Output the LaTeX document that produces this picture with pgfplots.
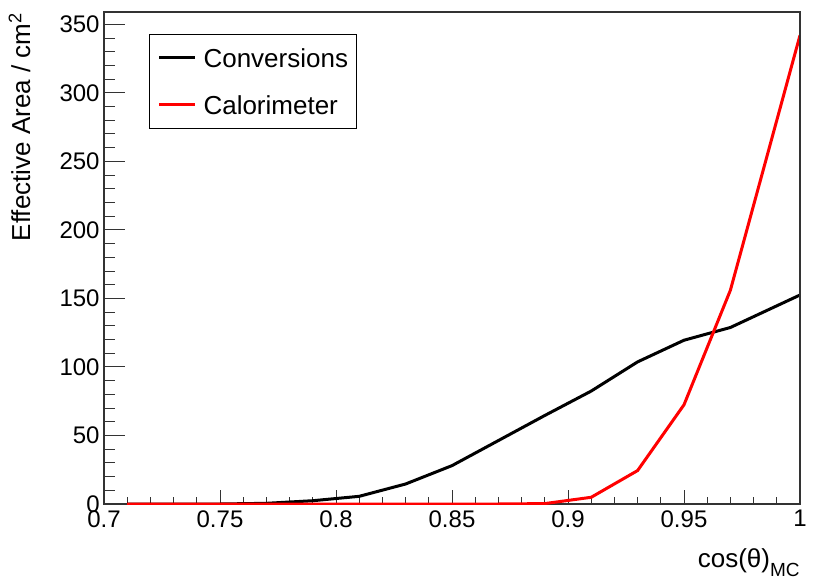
\documentclass[border=0pt]{standalone}
\usepackage{fontspec}
\setmainfont{Liberation Sans}
\usepackage{pgfplots}
\pgfplotsset{compat=1.18}
\pgfplotsset{rootframe/.style={
  at={(52pt,37.5pt)}, anchor=south west,
  scale only axis, width=348pt, height=246pt,
  xmin=0.7, xmax=1, ymin=0, ymax=359,
  tick align=inside,
  tick style={black!80, line width=0.5pt},
  axis line style={black!80, line width=0.6pt},
  /pgf/number format/assume math mode=true,
  ticklabel style={font=\fontsize{12}{14}\selectfont},
}}
\begin{document}
\begin{tikzpicture}
\useasboundingbox (0,0) rectangle (415pt,289.5pt);
\begin{axis}[
  rootframe,
  xtick={0.7,0.75,0.8,0.85,0.9,0.95,1},
  xticklabels={0.7,0.75,0.8,0.85,0.9,0.95,1},
  ytick=\empty,
  minor x tick num=4,
  xtick pos=bottom,
  major tick length=7pt, minor tick length=3.5pt,
  xticklabel style={inner ysep=3pt},
  xlabel={cos(θ)\raisebox{-4.5pt}{\fontsize{9.5}{10}\selectfont MC}},
  ylabel={Effective Area / cm\textsuperscript{2}},
  label style={font=\fontsize{13}{15}\selectfont},
  xlabel style={at={(axis description cs:1,-0.130)}, anchor=base east, inner sep=0pt},
  ylabel style={at={(axis description cs:-0.1063,1)}, anchor=base east, inner sep=0pt},
  legend style={at={(0.0647,0.9553)}, anchor=north west, draw=black, line width=0.5pt,
    font=\fontsize{13}{15}\selectfont, inner xsep=4pt, inner ysep=7pt, row sep=14pt,
    nodes={inner sep=0pt, text height=9.5pt, text depth=0pt},
    /tikz/every odd column/.append style={column sep=3.5pt}},
  legend cell align=left,
  legend image code/.code={\draw[#1, line width=1.5pt] (-1.5pt,0pt) -- (16.5pt,0pt);},
]
\addplot[black, line width=1.5pt] coordinates {
(0.71,0) (0.73,0) (0.75,0) (0.77,0.5) (0.79,2.4) (0.81,5.6) (0.83,14.6) (0.85,28)
(0.87,46.3) (0.89,64.6) (0.91,82.4) (0.93,103.7) (0.95,119.5) (0.97,128.8) (1.0,152.5)
};
\addlegendentry{Conversions}
\addplot[red, line width=1.5pt] coordinates {
(0.71,0) (0.73,0) (0.75,0) (0.77,0) (0.79,0) (0.81,0) (0.83,0) (0.85,0)
(0.87,0) (0.89,0.3) (0.91,4.9) (0.93,24.4) (0.95,72.4) (0.97,156) (1.0,342)
};
\addlegendentry{Calorimeter}
\end{axis}
\begin{axis}[
  rootframe,
  hide x axis,
  ytick={0,50,100,150,200,250,300,350},
  minor y tick num=4,
  ytick pos=left,
  major tick length=10.5pt, minor tick length=5.3pt,
  yticklabel style={inner xsep=2pt},
]
\end{axis}
\end{tikzpicture}
\end{document}
